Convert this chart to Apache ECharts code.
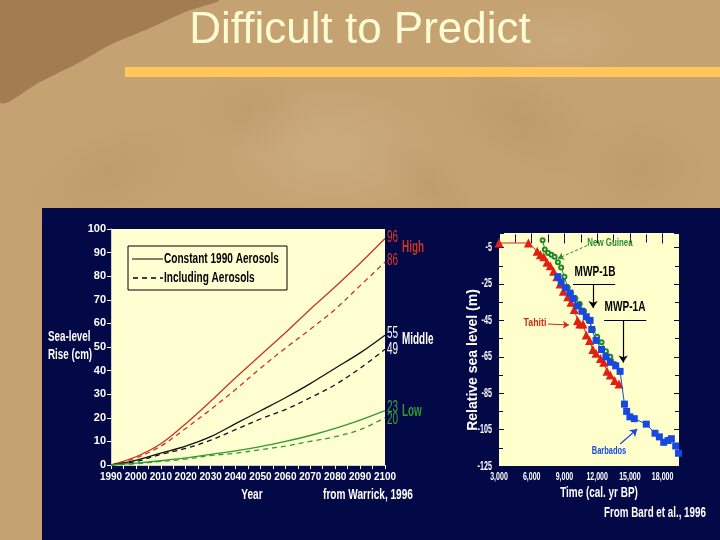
<!DOCTYPE html>
<html>
<head>
<meta charset="utf-8">
<style>html,body{margin:0;padding:0;background:#c5a272;}#c{width:720px;height:540px;}</style>
<script src="https://cdn.jsdelivr.net/npm/echarts@6/dist/echarts.min.js"></script>
</head>
<body>
<div id="c"></div>
<script>
// ---------- Data: left chart (Warrick, 1996) ----------
const years = [1990,2000,2010,2020,2030,2040,2050,2060,2070,2080,2090,2100];
const highConst = [0,3.5,9,17.5,27,37,46.5,56,66,75.5,85.5,96];
const highAer   = [0,3,8,15.5,23.5,32,41,49.5,57.5,66,76,86];
const midConst  = [0,2,5,8,12,17.5,23,28.5,34.5,41,47.5,55];
const midAer    = [0,1.5,4.5,7,10.5,15,19.5,23.5,28.5,34,41,49];
const lowConst  = [0,0.8,1.8,3,4.5,6,7.8,10,12.5,15.5,19,23];
const lowAer    = [0,0.5,1.5,2.5,4,5,6.5,8,10,12,15,20];
const legendNames = ['Constant 1990 Aerosols','Including Aerosols'];
const scenarioNames = ['High','Middle','Low'];

// ---------- Data: right chart (Bard et al., 1996) ----------
const tahitiTime  = [3000,5700,6500,6800,7100,7400,7700,8000,8300,8600,8900,9300,9600,9900,10200,10400,10700,11000,11300,11600,11900,12300,12600,12900,13200,13600,14000];
const tahitiLevel = [-2.5,-2.5,-7,-9,-10,-13,-15,-18,-21,-25,-29,-32,-35,-39,-45,-47,-47,-53,-56,-61,-63,-66,-68,-73,-75,-78,-80];
const barbadosTime  = [8400,8700,9100,9500,9800,10200,10600,11000,11350,11500,11900,12400,12800,13200,13700,14100,14500,14700,15000,15400,16500,17300,17700,18100,18500,18800,19200,19450];
const barbadosLevel = [-21,-24,-27,-30,-33,-37,-40,-43,-45,-50,-56,-61,-65,-68,-70,-73,-91,-95,-98,-99,-102,-107,-109,-112,-111,-110,-114,-118];
const guineaTime  = [7000,7200,7500,7800,8100,8400,8700,9000,9300,9600,10000,10400,10800,11200,11600,12000,12400,12800,13200,13600];
const guineaLevel = [-1,-6,-8,-9,-10,-13,-16,-21,-27,-30,-33,-36,-40,-45,-50,-54,-57,-62,-65,-69];
const timeTicks  = [3000,6000,9000,12000,15000,18000];
const levelTicks = [-125,-105,-85,-65,-45,-25,-5];

const zip = (a,b) => a.map((v,i)=>[v,b[i]]);
const FONT = '"Liberation Sans", Arial, sans-serif';
const RED = '#cc3322', GRN = '#2f9a2f', BLK = '#111111';
const NAVY = '#030847';

function txt(s, x, y, size, color, o) {
  o = o || {};
  return {type:'text', z:o.z==null?10:o.z, x, y, rotation:o.rot||0, scaleX:o.sx==null?1:o.sx, silent:true,
    style:{text:s, x:0, y:0, textAlign:o.align||'left', textVerticalAlign:'middle',
      font:(o.bold?'bold ':'')+size+'px '+FONT, fill:color}};
}
function blob(cx, cy, r, rgb, a, sy, rot) {
  return {type:'circle', z:-19, shape:{cx:0, cy:0, r}, x:cx, y:cy, scaleY:sy||1, rotation:rot||0, silent:true,
    style:{fill:new echarts.graphic.RadialGradient(0.5,0.5,0.5,[
      {offset:0, color:'rgba('+rgb+','+a+')'}, {offset:1, color:'rgba('+rgb+',0)'}])}};
}

function lineSeries(name, vals, color, dashed) {
  return {
    type:'line', name, xAxisIndex:0, yAxisIndex:0,
    data: zip(years, vals), smooth:0.35, symbol:'none',
    lineStyle:{color, width:1.3, type: dashed ? [5,4] : 'solid'},
    z:3, silent:true
  };
}

const chart = echarts.init(document.getElementById('c'), null, {renderer:'canvas'});

const baseGraphic = [
  blob(330,150,110,'215,188,145',0.35,0.6),
  blob(520,120,90,'150,115,70',0.14,0.5,-0.5),
  blob(640,170,70,'150,115,70',0.13,0.8),
  blob(110,175,90,'150,115,70',0.12,0.5,0.4),
  blob(250,110,60,'150,115,70',0.1,0.7),
  blob(430,185,70,'150,115,70',0.1,0.4,-0.8),
  blob(560,40,80,'215,188,145',0.25,0.5),
  {type:'polygon', z:-18, silent:true, shape:{points:[[0,0],[218,0],[185,12],[150,28],[110,45],[80,62],[40,82],[0,102]], smooth:0.3}, style:{fill:'#a27d52'}},
  txt('Difficult to Predict', 360, 31, 44, '#fffbd2', {align:'center', z:-5}),
  {type:'rect', z:-5, silent:true, shape:{x:125,y:67,width:595,height:10}, style:{fill:'#ffc65c'}},
  {type:'rect', z:-5, silent:true, shape:{x:42,y:208,width:678,height:332}, style:{fill:NAVY}},
  // legend box (left chart)
  {type:'rect', z:10, silent:true, shape:{x:128,y:246,width:159,height:44}, style:{fill:'#ffffd2', stroke:'#000', lineWidth:1}},
  {type:'line', z:11, silent:true, shape:{x1:132,y1:259,x2:163,y2:259}, style:{stroke:'#000', lineWidth:1}},
  {type:'line', z:11, silent:true, shape:{x1:133,y1:278,x2:163,y2:278}, style:{stroke:'#000', lineWidth:1.6, lineDash:[5,4]}},
  txt(legendNames[0], 164, 259, 14, '#000', {bold:true, sx:0.72, z:11}),
  txt(legendNames[1], 164, 278, 14, '#000', {bold:true, sx:0.72, z:11}),
  // axis titles & credits
  txt('Sea-level', 48, 337, 14, '#fff', {bold:true, sx:0.7}),
  txt('Rise (cm)', 48, 355, 14, '#fff', {bold:true, sx:0.7}),
  txt('Year', 252, 495, 14, '#fff', {bold:true, sx:0.72, align:'center'}),
  txt('from Warrick, 1996', 368, 495, 14, '#fff', {bold:true, sx:0.72, align:'center'}),
  txt('Relative sea level (m)', 473, 360, 14, '#fff', {bold:true, rot:Math.PI/2, align:'center'}),
  txt('Time (cal. yr BP)', 599, 493, 14, '#fff', {bold:true, sx:0.71, align:'center'}),
  txt('From Bard et al., 1996', 655, 513, 14, '#fff', {bold:true, sx:0.70, align:'center'}),
  // right chart annotations
  txt('New Guinea', 610, 243, 11, '#2a8c2a', {bold:true, sx:0.72, align:'center'}),
  txt('MWP-1B', 595, 272, 14, '#000', {bold:true, sx:0.72, align:'center'}),
  txt('MWP-1A', 625, 307, 14, '#000', {bold:true, sx:0.72, align:'center'}),
  txt('Tahiti', 535, 323, 11, '#d02a10', {bold:true, sx:0.8, align:'center'}),
  txt('Barbados', 609, 451, 11, '#1848e0', {bold:true, sx:0.68, align:'center'})
];

const option = {
  backgroundColor:'#c5a272',
  animation:false,
  graphic:baseGraphic,
  grid:[
    {left:111, right:335, top:229, bottom:75, show:true, backgroundColor:'#ffffd2', borderWidth:0},
    {left:499, right:41, top:233, bottom:74, show:true, backgroundColor:'#ffffcc', borderWidth:0}
  ],
  xAxis:[
    {gridIndex:0, type:'value', min:1990, max:2100, interval:10,
      axisLine:{show:true, lineStyle:{color:'#cfcfcf', width:1}},
      axisTick:{show:true, length:4, lineStyle:{color:'#fff'}},
      minorTick:{show:true, splitNumber:2, length:4, lineStyle:{color:'#fff'}},
      splitLine:{show:false},
      axisLabel:{color:'#fff', fontFamily:FONT, fontSize:10, fontWeight:'bold', margin:7,
        showMinLabel:true, showMaxLabel:true, formatter:v=>String(v)}},
    {gridIndex:1, type:'value', min:3000, max:19500, interval:3000,
      axisLine:{show:false}, axisLabel:{show:false},
      axisTick:{show:true, inside:true, length:5, lineStyle:{color:NAVY}},
      minorTick:{show:true, splitNumber:2, length:4, lineStyle:{color:NAVY}},
      splitLine:{show:false}},
    {gridIndex:1, type:'value', position:'top', min:3000, max:19500, interval:3000,
      axisLine:{show:false}, axisLabel:{show:false}, splitLine:{show:false},
      axisTick:{show:true, inside:true, length:5, lineStyle:{color:NAVY}},
      minorTick:{show:true, splitNumber:2, length:4, lineStyle:{color:NAVY}}}
  ],
  yAxis:[
    {gridIndex:0, type:'value', min:0, max:100, interval:10,
      axisLine:{show:true, lineStyle:{color:'#cfcfcf', width:1}},
      axisTick:{show:true, length:4, lineStyle:{color:'#fff'}},
      splitLine:{show:false},
      axisLabel:{color:'#fff', fontFamily:FONT, fontSize:11, fontWeight:'bold', margin:5, showMinLabel:true, showMaxLabel:true}},
    {gridIndex:1, type:'value', min:-125, max:3, interval:20,
      axisLine:{show:false}, axisLabel:{show:false},
      axisTick:{show:true, inside:true, length:5, lineStyle:{color:NAVY}},
      minorTick:{show:true, splitNumber:2, length:4, lineStyle:{color:NAVY}},
      splitLine:{show:false}},
    {gridIndex:1, type:'value', position:'right', min:-125, max:3, interval:20,
      axisLine:{show:false}, axisLabel:{show:false}, splitLine:{show:false},
      axisTick:{show:true, inside:true, length:5, lineStyle:{color:NAVY}},
      minorTick:{show:true, splitNumber:2, length:4, lineStyle:{color:NAVY}}}
  ],
  series:[
    lineSeries('High const', highConst, RED, false),
    lineSeries('High aer', highAer, RED, true),
    lineSeries('Middle const', midConst, BLK, false),
    lineSeries('Middle aer', midAer, BLK, true),
    lineSeries('Low const', lowConst, GRN, false),
    lineSeries('Low aer', lowAer, GRN, true),
    {type:'line', name:'New Guinea', xAxisIndex:1, yAxisIndex:1, data:zip(guineaTime, guineaLevel),
      symbol:'emptyCircle', symbolSize:4, color:'#1f8a1f', lineStyle:{color:'#1f8a1f', width:1}, itemStyle:{borderWidth:1.5}, z:3, silent:true,
      markLine:{silent:true, symbol:['none','arrow'], symbolSize:6, label:{show:false},
        lineStyle:{color:'#2a8c2a', width:1, type:[3,2]},
        data:[[{coord:[11070,-3.9]},{coord:[8400,-11]}]]}},
    {type:'line', name:'Tahiti', xAxisIndex:1, yAxisIndex:1, data:zip(tahitiTime, tahitiLevel),
      symbol:'triangle', symbolSize:9, color:'#e02010', lineStyle:{color:'#e02010', width:1}, z:4, silent:true,
      markLine:{silent:true, symbol:['none','arrow'], symbolSize:6, label:{show:false},
        lineStyle:{color:'#d02a10', width:1, type:'solid'},
        data:[[{coord:[7480,-47]},{coord:[9410,-47.5]}]]}},
    {type:'line', name:'Barbados', xAxisIndex:1, yAxisIndex:1, data:zip(barbadosTime, barbadosLevel),
      symbol:'rect', symbolSize:7, color:'#1848e0', lineStyle:{color:'#1848e0', width:1}, z:5, silent:true,
      markLine:{silent:true, symbol:['none','none'], symbolSize:7, label:{show:false},
        lineStyle:{color:'#000', width:1.2, type:'solid'},
        data:[
          [{coord:[15670,-104.7], symbol:'arrow', lineStyle:{color:'#1848e0'}},{coord:[14110,-112.9], symbol:'none', lineStyle:{color:'#1848e0'}}],
          [{coord:[9780,-25.2]},{coord:[13650,-25.2]}],
          [{coord:[11620,-25.2]},{coord:[11620,-38.2], symbol:'arrow'}],
          [{coord:[12640,-44.8]},{coord:[16500,-44.8]}],
          [{coord:[14380,-44.8]},{coord:[14380,-68.2], symbol:'arrow'}]
        ]}}
  ]
};
chart.setOption(option);

// Labels placed from the axes' own scales (condensed text via scaleX)
const extra = [];
const lastYear = years[years.length-1];
const endSpecs = [[highConst,'#d83a2a',-1],[highAer,'#d83a2a',-1],[midConst,'#ffffff',-2],[midAer,'#ffffff',0],[lowConst,'#3aa53a',-3],[lowAer,'#3aa53a',2]];
const pts = endSpecs.map(([arr,col,dy]) => {
  const v = arr[arr.length-1];
  const p = chart.convertToPixel({gridIndex:0}, [lastYear, v]);
  extra.push(txt(String(v), p[0]+2, p[1]+dy, 16, col, {sx:0.62}));
  return p;
});
const nameCols = [RED,'#ffffff',GRN];
scenarioNames.forEach((n,i) => {
  const y = (pts[2*i][1] + pts[2*i+1][1]) / 2 - 3;
  extra.push(txt(n, pts[2*i][0]+17, y, 16, nameCols[i], {bold:true, sx:0.62}));
});
timeTicks.forEach(t => {
  const p = chart.convertToPixel({xAxisIndex:1}, t);
  extra.push(txt(t.toLocaleString('en-US'), p, 477, 11, '#fff', {bold:true, sx:0.64, align:'center'}));
});
levelTicks.forEach(v => {
  const p = chart.convertToPixel({yAxisIndex:1}, v);
  extra.push(txt(String(v), 492, v === -125 ? p + 1 : p, 12, '#fff', {bold:true, sx:0.6, align:'right'}));
});
chart.setOption({graphic: baseGraphic.concat(extra)});
</script>
</body>
</html>
